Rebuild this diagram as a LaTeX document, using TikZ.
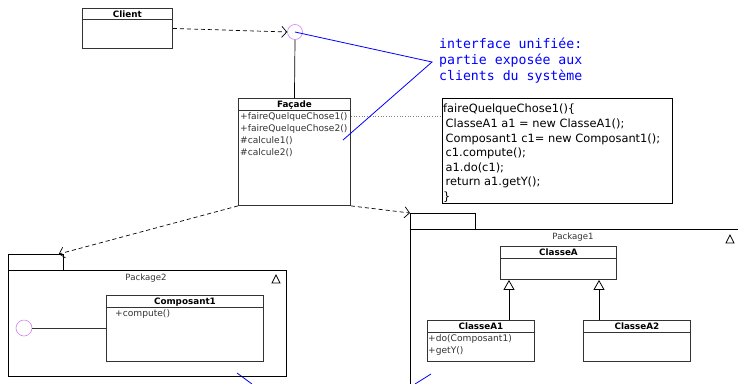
\documentclass[tikz,border=0pt]{standalone}
\usepackage{fontspec}
\setmainfont{DejaVu Sans}
\newfontfamily\handfont{DejaVu Sans Mono}
\usetikzlibrary{arrows.meta,calc}
\definecolor{umlline}{HTML}{333333}
\definecolor{ifacecol}{HTML}{CC88EE}
\definecolor{notetxt}{HTML}{0000FF}
\tikzset{
  classbox/.style={draw=umlline, line width=0.9pt, fill=white, anchor=north west, inner sep=0pt},
  classtitle/.style={font=\bfseries\fontsize{8.8}{9}\selectfont, inner sep=0pt, anchor=base},
  member/.style={font=\fontsize{9.1}{12}\selectfont, inner sep=0pt, anchor=north west, align=left, text=umlline},
  pkgbox/.style={draw=black, line width=0.8pt, anchor=north west, inner sep=0pt},
  pkglabel/.style={font=\fontsize{8.6}{9}\selectfont, text=umlline, inner sep=0pt, anchor=base},
  iface/.style={circle, draw=ifacecol, line width=0.6pt, minimum size=15pt, inner sep=0pt},
  depend/.style={draw=black, line width=0.7pt, dash pattern=on 4pt off 3pt, -{Straight Barb[length=5pt,width=11pt]}},
  inherit/.style={draw=black, line width=0.8pt, -{Triangle[open,length=10pt,width=11pt,fill=white]}},
  blueline/.style={draw=notetxt, line width=0.8pt},
  pkgmark/.style={draw=black, line width=0.8pt}
}
\begin{document}
\begin{tikzpicture}[x=1pt,y=-1pt]
\useasboundingbox (0,0) rectangle (738,383);

% Client
\node[classbox, minimum width=90pt, minimum height=40pt] (client) at (82,8) {};
\node[classtitle] (clientT) at ($(client.north)+(0,9)$) {Client};
\draw[umlline, line width=0.9pt] ($(client.north west)+(0,11)$) -- ($(client.north east)+(0,11)$);

% interface circle
\node[iface] (ifc) at (295,32) {};

% Facade
\node[classbox, minimum width=112pt, minimum height=107pt] (facade) at (238,98) {};
\node[classtitle] (facadeT) at ($(facade.north)+(0,9)$) {Façade};
\draw[umlline, line width=0.9pt] ($(facade.north west)+(0,12)$) -- ($(facade.north east)+(0,12)$);
\node[member] (facadeM) at ($(facade.north west)+(2,14)$) {+faireQuelqueChose1()\\+faireQuelqueChose2()\\\#calcule1()\\\#calcule2()};
\coordinate (facadeOp1) at ($(facade.north east)+(0,18)$);

\draw[depend] (client.east) -- (ifc.west);
\draw[black, line width=0.7pt] (ifc.south) -- (facade.north);

% Note
\node[draw=black, line width=1.4pt, anchor=north west, minimum width=230pt, minimum height=105pt, inner sep=0pt] (note) at (442,98) {};
\node[anchor=north west, align=left, inner sep=0pt, font=\fontsize{11.4}{14.6}\selectfont] (noteT) at (443,104)
 {faireQuelqueChose1()\{\\
 \hspace{2.5pt}ClasseA1 a1 = new ClasseA1();\\
 \hspace{2.5pt}Composant1 c1= new Composant1();\\
 \hspace{2.5pt}c1.compute();\\
 \hspace{2.5pt}a1.do(c1);\\
 \hspace{2.5pt}return a1.getY();\\
 \}};
\draw[gray, line width=0.7pt, dotted] (facadeOp1) -- (facadeOp1 -| note.west);

% blue annotation
\node[anchor=north west, align=left, inner sep=0pt, text=notetxt, font=\handfont\fontsize{13.2}{16}\selectfont] (anno) at (439,38)
 {interface unifiée:\\partie exposée aux\\clients du système};
\coordinate (annoTip) at (432,62);
\coordinate (annoEnd) at (343,140);
\draw[blueline] (ifc.center) -- (annoTip) -- (annoEnd);
\coordinate (blueA1) at (237,373);
\coordinate (blueA2) at (252,384);
\coordinate (blueB1) at (431,374);
\coordinate (blueB2) at (415,384);
\draw[blueline] (blueA1) -- (blueA2);
\draw[blueline] (blueB1) -- (blueB2);

% Package2
\node[pkgbox, minimum width=55pt, minimum height=16pt] (pkg2tab) at (8,254) {};
\node[pkgbox, minimum width=278pt, minimum height=106pt] (pkg2) at (8,270) {};
\node[pkglabel] (pkg2L) at (146,280) {Package2};
\draw[pkgmark] (272,283) -- (280,283) -- (276,275) -- cycle;

\node[classbox, minimum width=157pt, minimum height=66pt] (comp) at (106,295) {};
\node[classtitle] (compT) at ($(comp.north)+(0,9)$) {Composant1};
\draw[umlline, line width=0.9pt] ($(comp.north west)+(0,12)$) -- ($(comp.north east)+(0,12)$);
\node[member] (compM) at ($(comp.north west)+(9,14.5)$) {+compute()};
\node[iface, minimum size=16pt] (ifc2) at (24,328) {};
\draw[umlline, line width=0.8pt] (ifc2.east) -- (ifc2.east -| comp.west);

% Package1
\node[pkgbox, minimum width=65pt, minimum height=16pt] (pkg1tab) at (410,213) {};
\node[pkgbox, minimum width=340pt, minimum height=170pt] (pkg1) at (410,229) {};
\node[pkglabel] (pkg1L) at (573,239) {Package1};
\draw[pkgmark] (726,243) -- (734,243) -- (730,235) -- cycle;

\node[classbox, minimum width=116pt, minimum height=33pt] (classA) at (500,246) {};
\node[classtitle] (classAT) at ($(classA.north)+(0,9)$) {ClasseA};
\draw[umlline, line width=0.9pt] ($(classA.north west)+(0,12)$) -- ($(classA.north east)+(0,12)$);

\node[classbox, minimum width=107pt, minimum height=41pt] (classA1) at (427,320) {};
\node[classtitle] (classA1T) at ($(classA1.north)+(0,9)$) {ClasseA1};
\draw[umlline, line width=0.9pt] ($(classA1.north west)+(0,12)$) -- ($(classA1.north east)+(0,12)$);
\node[member] (classA1M) at ($(classA1.north west)+(1,14)$) {+do(Composant1)\\+getY()};

\node[classbox, minimum width=107pt, minimum height=41pt] (classA2) at (583,320) {};
\node[classtitle] (classA2T) at ($(classA2.north)+(0,9)$) {ClasseA2};
\draw[umlline, line width=0.9pt] ($(classA2.north west)+(0,12)$) -- ($(classA2.north east)+(0,12)$);

\draw[inherit] (classA1.north -| 509,0) -- (classA.south -| 509,0);
\draw[inherit] (classA2.north -| 599,0) -- (classA.south -| 599,0);

% dependencies from Facade
\draw[depend] (facade.south west) -- ($(pkg2tab.north east)+(-5,0)$);
\draw[depend] (facade.south east) -- (pkg1tab.north west);
\end{tikzpicture}
\end{document}
